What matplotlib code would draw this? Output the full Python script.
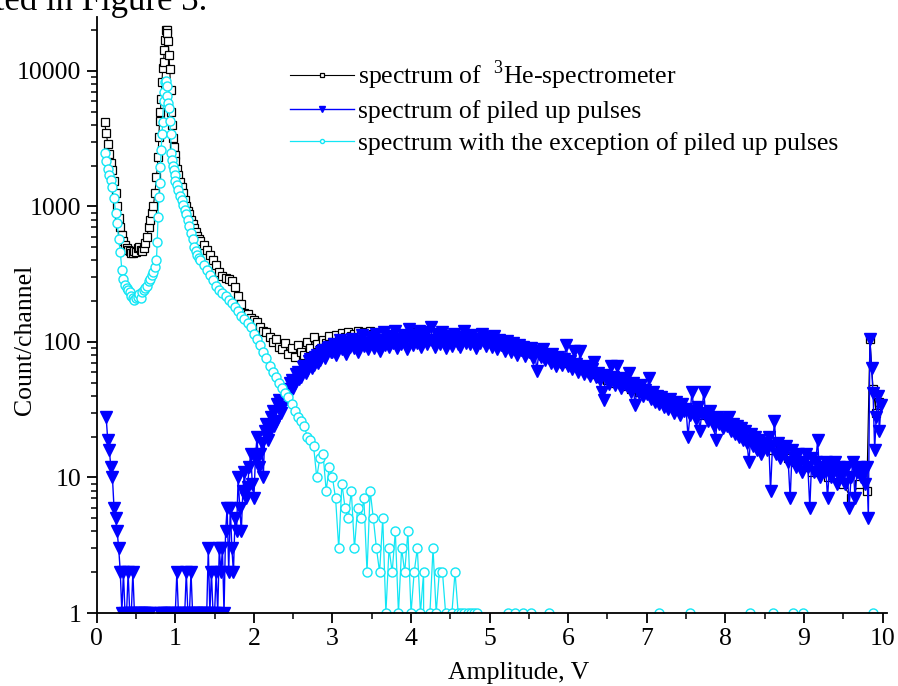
import numpy as np
import matplotlib.pyplot as plt
from matplotlib.ticker import FixedLocator, FixedFormatter, LogLocator, NullFormatter, MultipleLocator

plt.rcParams['font.family'] = ['Liberation Serif', 'DejaVu Serif']
plt.rcParams['mathtext.fontset'] = 'custom'
plt.rcParams['mathtext.rm'] = 'Liberation Serif'

# counts per channel; each block is (first channel, channel step, values)
black_a = (0.10, 0.02, [4200, 3500, 2900, 2450, 2100, 1850, 1550, 1250, 1000, 820,
                        700, 620, 560, 520, 490, 480, 470, 455, 450, 470,
                        460, 490, 500, 480, 470, 490, 540, 600, 700, 800,
                        900, 1000, 1250, 1650])
black_b = (0.78, 0.01, [2300, 3250, 4300, 5000, 6200, 8300, 10500, 11600, 14300, 16800,
                        19900, 20000, 19000, 16500, 13000, 10400, 7200, 5000, 4000, 3200,
                        2750, 2400, 2150])
black_c = (1.02, 0.02, [1900, 1700, 1520, 1400, 1250, 1120, 1000, 930, 880, 800,
                        740, 690, 650, 610, 580])
black_d = (1.32, 0.04, [560, 520, 480, 440, 405, 370, 330, 305, 295, 290,
                        280, 255, 220, 190, 165, 160, 150, 145, 140, 128,
                        120, 118, 108, 100, 105, 92, 88, 98, 82, 90,
                        78, 95, 85, 80, 100, 90, 108, 96, 88, 104,
                        98, 110, 100, 112, 104, 116, 108, 118, 110, 115,
                        120, 112, 118, 110, 120, 114])
black_e = (3.60, 0.10, [112, 108, 115, 105, 118, 110, 112, 106, 116, 104,
                        108, 112, 104, 106, 108, 98, 100, 94, 92, 88,
                        86, 80, 76, 72, 70, 66, 62, 58, 54, 52,
                        50, 47, 45, 43, 41, 39, 37, 36, 34, 32,
                        30, 29, 27, 26, 25, 23, 22, 19, 18, 17,
                        16, 15, 14, 13, 12, 11, 11, 10, 10, 9,
                        7, 9, 8])
black_f = (9.84, 0.04, [105, 45, 30, 36])

blue_a = (0.12, 0.02, [28, 19, 16, 12, 10, 6, 5, 4, 3, 2,
                       1, 2, 1, 1, 2, 1, 1, 2, 1, 1,
                       1, 1, 1, 1, 1, 1, 1, 1, 1, 0,
                       0, 0, 0, 0, 1, 1, 1, 1, 0, 1,
                       1, 1, 1, 0, 1, 2, 1, 1, 1, 1,
                       1, 2, 1, 1, 2, 1, 1, 1, 1, 1,
                       1, 1, 1, 1, 1, 3, 1, 2, 1, 1,
                       2, 1, 3, 2, 3, 1, 4, 6, 2, 6])
blue_b = (1.72, 0.02, [3, 2, 5, 4, 10, 6, 4, 8, 11, 7,
                       8.5, 12, 15, 9, 7, 14, 20, 12, 15, 18,
                       10, 22, 25, 19, 22, 28, 31, 24, 26, 35,
                       37, 30, 33, 42, 45, 38, 40, 50, 52, 46,
                       50, 58, 60, 53, 55, 65, 66, 59, 62, 72,
                       75, 64, 68, 78, 80, 70, 73, 84, 87, 76,
                       82, 90, 92, 84])
blue_c = (3.00, 0.025, [85, 96, 80, 92, 104, 88, 98, 82, 100, 92,
                        106, 90, 97, 84, 102, 112, 94, 99, 88, 108,
                        96, 90, 114, 100, 86, 104, 118, 95, 102, 92,
                        110, 98, 120, 90, 105, 96, 113, 101, 88, 125,
                        104, 95, 112, 99, 121, 92, 108, 118, 97, 104,
                        130, 100, 92, 114, 106, 97, 119, 103, 90, 110,
                        101, 94, 115, 106, 97, 92, 108, 120, 99, 104,
                        96, 112, 100, 91, 106, 98, 115, 102, 94, 109,
                        100, 92, 110, 97, 88, 104, 95, 99, 86, 102,
                        93, 85, 98, 90, 80, 95, 87, 92, 79, 89,
                        84, 90, 76, 86, 61, 82, 78, 88, 73, 80,
                        76, 70, 82, 74, 66, 78, 71, 68, 75, 95,
                        67, 72, 63, 86, 69, 60, 86, 65, 58, 66,
                        60, 56, 63, 71, 55, 59, 52, 43, 37, 57,
                        53, 49, 66, 55, 48, 66, 51, 46, 54, 49,
                        47, 59, 43, 50, 34, 45, 42, 48, 40, 44,
                        41, 54, 38, 43, 36, 40, 35, 39, 37, 33,
                        36, 32, 38, 34, 30, 36, 33, 29, 35, 31,
                        32, 20, 29, 43, 31, 27, 33, 22, 30, 43,
                        29, 26, 31, 27, 24, 19, 28, 25, 27, 23,
                        26, 24, 28, 22, 25, 21, 24, 20, 23, 19,
                        22, 18, 13, 21, 17, 20, 16, 19, 15, 18,
                        18, 16, 20, 8, 17, 26, 15, 18, 14, 16,
                        15, 17, 13, 7, 16, 14, 12, 15, 13, 11,
                        13, 15, 12, 6, 14, 11, 13, 19, 10, 12,
                        11, 13, 7, 12, 10, 11, 13, 9, 12, 10,
                        11, 9, 12, 6, 10, 13, 7, 11, 12, 10,
                        11, 9, 12])
blue_d = (9.82, 0.02, [5, 106, 64, 42, 16, 28, 40, 22, 34])

cyan_a = (0.10, 0.02, [2500, 2150, 1900, 1700, 1580, 1400, 1150, 900, 750, 580,
                       460, 340, 290, 265, 250, 240, 232, 220, 210, 205,
                       210, 215, 225, 210, 235, 240, 250, 260, 280, 290,
                       310, 330, 360, 400])
cyan_b = (0.77, 0.01, [550, 830, 1170, 1500, 1950, 2600, 3400, 4200, 6000, 7000,
                       8300, 8500, 7700, 6500, 5800, 5300, 4300, 3400, 2500, 2200,
                       2000, 1850, 1700])
cyan_c = (1.00, 0.02, [1550, 1450, 1320, 1200, 1110, 1030, 940, 880, 790, 720,
                       640, 580, 500, 470, 440, 420])
cyan_d = (1.32, 0.04, [400, 370, 340, 310, 285, 260, 240, 230, 220, 205,
                       195, 180, 168, 155, 148, 138, 128, 115, 105, 95,
                       85, 76, 67, 60, 55, 50, 46, 42, 39, 35,
                       31, 28])
cyan_e = (2.60, 0.04, [26, 24, 20, 19, 17, 10, 14, 15, 8, 12,
                       10, 7, 3, 9, 6, 5, 8, 3, 6, 5,
                       7, 2, 8, 5, 3, 2, 5, 1, 3, 2,
                       4, 1, 3, 2, 4, 1, 2, 3, 1, 2,
                       0, 1, 3, 1, 2, 2, 1, 0, 1, 2,
                       1, 1, 1, 1, 1, 1, 1, 0])
cyan_tail_x = [4.92, 5.20, 5.24, 5.28, 5.32, 5.38, 5.43, 5.48, 5.53, 5.60,
               5.70, 5.75, 5.80, 7.10, 7.15, 7.20, 7.50, 7.55, 7.60, 8.27,
               8.31, 8.35, 8.57, 8.61, 8.65, 8.82, 8.86, 8.92, 8.99, 9.04,
               9.84, 9.88, 9.92]
cyan_tail_y = [0, 0, 1, 0, 1, 0, 1, 0, 1, 0,
               0, 1, 0, 0, 1, 0, 0, 1, 0, 0,
               1, 0, 0, 1, 0, 0, 1, 0, 1, 0,
               0, 1, 0]

labels = [r'spectrum of  $^{3}$He-spectrometer',
          'spectrum of piled up pulses',
          'spectrum with the exception of piled up pulses']


def join(*blocks):
    xs, ys = [], []
    for start, step, vals in blocks:
        xs.append(start + step * np.arange(len(vals)))
        ys.append(np.array(vals, dtype=float))
    return np.concatenate(xs), np.concatenate(ys)


black_x, black_y = join(black_a, black_b, black_c, black_d, black_e, black_f)
blue_x, blue_y = join(blue_a, blue_b, blue_c, blue_d)
cyan_x, cyan_y = join(cyan_a, cyan_b, cyan_c, cyan_d, cyan_e)
cyan_x = np.concatenate([cyan_x, cyan_tail_x])
cyan_y = np.concatenate([cyan_y, cyan_tail_y])

fig = plt.figure(figsize=(8.98, 6.86), dpi=100)
ax = fig.add_axes([0.1077, 0.1064, 0.8803, 0.8688])
ax.set_yscale('log')

cyan = '#12e6f5'
ax.plot(black_x, black_y, color='black', lw=0.8, marker='s', ms=6,
        mfc='white', mec='black', mew=0.9, label=labels[0])
ax.plot(blue_x, blue_y, color='#0000ff', lw=1.0, marker='v', ms=8.5,
        mfc='#0000ff', mec='#0000ff', label=labels[1])
ax.plot(cyan_x, cyan_y, color=cyan, lw=0.9, marker='o', ms=6.5,
        mfc='white', mec=cyan, mew=1.0, label=labels[2])

ax.set_xlim(0, 10.06)
ax.set_ylim(1, 25000)

for side in ['top', 'right']:
    ax.spines[side].set_visible(False)
for side in ['left', 'bottom']:
    ax.spines[side].set_linewidth(1.3)

ax.xaxis.set_major_locator(MultipleLocator(1))
ax.xaxis.set_minor_locator(MultipleLocator(0.5))
ax.yaxis.set_major_locator(FixedLocator([1, 10, 100, 1000, 10000]))
ax.yaxis.set_major_formatter(FixedFormatter(['1', '10', '100', '1000', '10000']))
ax.yaxis.set_minor_locator(LogLocator(base=10, subs=np.arange(2, 10)))
ax.yaxis.set_minor_formatter(NullFormatter())
ax.tick_params(which='major', direction='out', length=7, width=1.3, labelsize=18.5, pad=4)
ax.tick_params(which='minor', direction='out', length=4, width=1.1)

ax.set_xlabel('Amplitude, V', fontsize=18.5)
ax.set_ylabel('Count/channel', fontsize=18.5)
ax.xaxis.set_label_coords(0.534, -0.083)
ax.yaxis.set_label_coords(-0.077, 0.458)

leg = ax.legend(loc='upper left', bbox_to_anchor=(0.231, 0.948), frameon=False,
                fontsize=18.5, handlelength=2.5, handletextpad=0.15,
                labelspacing=0.33, markerscale=0.45, borderaxespad=0)

fig.text(207 / 898, 1 - 10 / 686, 'presented in Figure 3.', ha='right', va='baseline',
         fontsize=25)

fig.savefig('out.png', dpi=100)
